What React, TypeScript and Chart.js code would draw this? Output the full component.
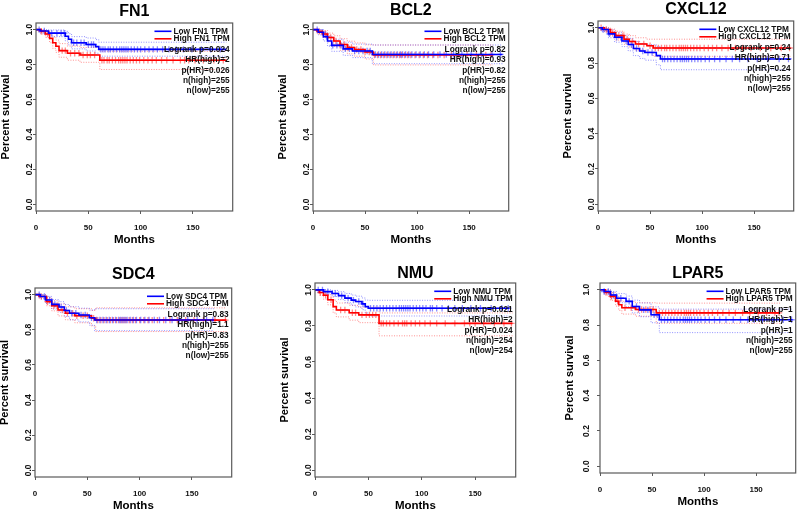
import React, { useEffect, useRef } from 'react';
import { Chart, registerables } from 'chart.js';

Chart.register(...registerables);

const FONT = '"Liberation Sans", Arial, Helvetica, sans-serif';

// ---------- data ----------
const genes = ['FN1', 'BCL2', 'CXCL12', 'SDC4', 'NMU', 'LPAR5'];
const logrankP = ['0.024', '0.82', '0.24', '0.83', '0.021', '1'];
const hrHigh = ['2', '0.93', '0.71', '1.1', '2', '1'];
const pHR = ['0.026', '0.82', '0.24', '0.83', '0.024', '1'];
const nHigh = ['255', '255', '255', '255', '254', '255'];
const nLow = ['255', '255', '255', '255', '254', '255'];

const X_TICKS = [0, 50, 100, 150];
const Y_TICKS = [0, 0.2, 0.4, 0.6, 0.8, 1.0];

// rows: [months, survival, lower CI, upper CI]
const FN1_low = [[0, 1, 1, 1], [4, 0.992, 0.98, 1], [12, 0.98, 0.96, 0.998], [28, 0.962, 0.935, 0.99], [31, 0.945, 0.913, 0.977], [34, 0.925, 0.89, 0.96], [48, 0.915, 0.878, 0.952], [57, 0.903, 0.865, 0.943], [60, 0.887, 0.848, 0.928], [182, 0.887, 0.848, 0.928]];
const FN1_high = [[0, 1, 1, 1], [5, 0.99, 0.975, 1], [9, 0.975, 0.955, 0.995], [13, 0.95, 0.925, 0.977], [16, 0.925, 0.893, 0.958], [19, 0.905, 0.87, 0.94], [22, 0.88, 0.842, 0.92], [30, 0.865, 0.825, 0.906], [42, 0.855, 0.813, 0.898], [61, 0.825, 0.772, 0.876], [182, 0.825, 0.772, 0.876]];
const FN1_lowC = [3, 8, 15, 20, 24, 27, 36, 39, 43, 46, 50, 53, 55, 62, 64, 66, 69, 71, 74, 77, 80, 82, 84, 86, 88, 91, 94, 97, 100, 104, 108, 112, 116, 121, 127, 134, 141, 149, 158, 167, 176];
const FN1_highC = [5, 11, 25, 28, 33, 37, 41, 45, 49, 52, 56, 63, 65, 68, 70, 73, 76, 79, 81, 83, 85, 87, 90, 93, 96, 99, 103, 107, 111, 115, 120, 125, 131, 138, 142, 146, 152, 160, 170, 179];

const BCL2_low = [[0, 1, 1, 1], [5, 0.985, 0.97, 1], [10, 0.96, 0.935, 0.985], [14, 0.935, 0.905, 0.965], [18, 0.91, 0.876, 0.945], [29, 0.89, 0.853, 0.928], [38, 0.878, 0.84, 0.917], [57, 0.858, 0.805, 0.912], [182, 0.858, 0.805, 0.912]];
const BCL2_high = [[0, 1, 1, 1], [4, 0.99, 0.978, 1], [9, 0.975, 0.955, 0.995], [14, 0.955, 0.93, 0.98], [20, 0.935, 0.905, 0.965], [26, 0.915, 0.882, 0.948], [33, 0.898, 0.862, 0.934], [40, 0.886, 0.848, 0.924], [50, 0.872, 0.832, 0.913], [58, 0.855, 0.798, 0.912], [173, 0.855, 0.798, 0.912]];
const BCL2_lowC = [4, 9, 13, 19, 23, 27, 31, 35, 40, 44, 48, 52, 55, 60, 63, 66, 69, 72, 75, 78, 81, 84, 86, 89, 92, 95, 99, 103, 107, 111, 116, 122, 128, 135, 143, 152, 162, 172, 180];
const BCL2_highC = [6, 12, 17, 22, 26, 30, 34, 37, 42, 46, 50, 54, 59, 62, 65, 68, 71, 74, 77, 80, 83, 85, 88, 91, 94, 98, 102, 106, 110, 115, 120, 126, 133, 140, 148, 157, 166, 171];

const CXCL12_low = [[0, 1, 1, 1], [4, 0.99, 0.978, 1], [10, 0.965, 0.943, 0.988], [16, 0.946, 0.918, 0.974], [23, 0.925, 0.893, 0.957], [29, 0.905, 0.869, 0.94], [34, 0.882, 0.842, 0.922], [40, 0.868, 0.826, 0.91], [45, 0.86, 0.816, 0.904], [56, 0.842, 0.79, 0.894], [60, 0.823, 0.762, 0.884], [185, 0.823, 0.762, 0.884]];
const CXCL12_high = [[0, 1, 1, 1], [6, 0.99, 0.978, 1], [12, 0.972, 0.952, 0.992], [17, 0.955, 0.93, 0.98], [25, 0.935, 0.906, 0.964], [30, 0.922, 0.89, 0.955], [36, 0.908, 0.873, 0.943], [47, 0.898, 0.861, 0.935], [53, 0.885, 0.838, 0.935], [185, 0.885, 0.838, 0.935]];
const CXCL12_lowC = [5, 11, 18, 22, 27, 32, 37, 43, 48, 52, 62, 64, 67, 70, 73, 76, 79, 81, 83, 85, 87, 90, 93, 96, 99, 103, 107, 112, 117, 123, 129, 136, 144, 153, 163, 174, 183];
const CXCL12_highC = [3, 8, 14, 20, 24, 28, 33, 39, 44, 50, 55, 58, 61, 64, 66, 69, 72, 75, 78, 80, 82, 84, 86, 89, 92, 95, 98, 102, 106, 110, 114, 119, 125, 132, 139, 147, 156, 166, 176, 184];

const SDC4_low = [[0, 1, 1, 1], [5, 0.99, 0.977, 1], [10, 0.97, 0.95, 0.99], [16, 0.945, 0.918, 0.972], [23, 0.93, 0.9, 0.96], [28, 0.91, 0.876, 0.944], [33, 0.894, 0.857, 0.931], [42, 0.884, 0.845, 0.923], [52, 0.869, 0.826, 0.912], [57, 0.856, 0.795, 0.92], [171, 0.856, 0.795, 0.92]];
const SDC4_high = [[0, 1, 1, 1], [4, 0.99, 0.977, 1], [11, 0.96, 0.937, 0.983], [16, 0.937, 0.908, 0.966], [22, 0.913, 0.879, 0.947], [29, 0.894, 0.857, 0.931], [38, 0.88, 0.84, 0.92], [54, 0.866, 0.822, 0.91], [58, 0.855, 0.79, 0.925], [183, 0.855, 0.79, 0.925]];
const SDC4_lowC = [4, 9, 14, 19, 25, 30, 35, 39, 44, 48, 54, 59, 62, 65, 68, 71, 74, 77, 80, 82, 84, 86, 88, 91, 94, 97, 101, 105, 109, 114, 119, 125, 131, 138, 146, 155, 164, 170];
const SDC4_highC = [6, 12, 18, 21, 26, 31, 36, 40, 46, 50, 56, 60, 63, 66, 69, 72, 75, 78, 81, 83, 85, 87, 90, 93, 96, 100, 104, 108, 112, 117, 123, 129, 136, 144, 152, 161, 172, 182];

const NMU_low = [[0, 1, 1, 1], [8, 0.99, 0.978, 1], [16, 0.98, 0.963, 0.997], [22, 0.968, 0.946, 0.99], [28, 0.954, 0.929, 0.98], [34, 0.943, 0.915, 0.971], [38, 0.935, 0.905, 0.965], [44, 0.922, 0.89, 0.955], [47, 0.907, 0.872, 0.943], [50, 0.898, 0.855, 0.942], [182, 0.898, 0.855, 0.942]];
const NMU_high = [[0, 1, 1, 1], [4, 0.985, 0.97, 1], [8, 0.97, 0.948, 0.992], [12, 0.945, 0.917, 0.973], [17, 0.907, 0.872, 0.943], [20, 0.888, 0.85, 0.927], [32, 0.873, 0.832, 0.914], [41, 0.861, 0.818, 0.904], [60, 0.814, 0.745, 0.872], [185, 0.814, 0.745, 0.872]];
const NMU_lowC = [3, 7, 12, 19, 25, 31, 36, 41, 45, 52, 55, 58, 61, 64, 67, 70, 73, 76, 79, 81, 83, 85, 87, 89, 92, 95, 98, 101, 104, 108, 110, 114, 119, 125, 131, 138, 146, 155, 165, 175, 181];
const NMU_highC = [5, 10, 15, 24, 28, 35, 38, 44, 48, 51, 54, 57, 62, 64, 67, 70, 74, 78, 82, 84, 86, 90, 94, 98, 103, 108, 114, 122, 131, 140, 145, 150, 158, 168, 177, 184];

const LPAR5_low = [[0, 1, 1, 1], [4, 0.99, 0.977, 1], [10, 0.97, 0.95, 0.99], [16, 0.952, 0.926, 0.978], [25, 0.934, 0.904, 0.964], [31, 0.905, 0.869, 0.941], [38, 0.886, 0.847, 0.925], [49, 0.858, 0.813, 0.903], [57, 0.83, 0.757, 0.89], [185, 0.83, 0.757, 0.89]];
const LPAR5_high = [[0, 1, 1, 1], [5, 0.985, 0.97, 1], [10, 0.962, 0.94, 0.984], [15, 0.935, 0.907, 0.963], [18, 0.915, 0.883, 0.947], [21, 0.898, 0.862, 0.934], [34, 0.888, 0.85, 0.926], [54, 0.869, 0.81, 0.924], [173, 0.869, 0.81, 0.924]];
const LPAR5_lowC = [4, 8, 13, 20, 28, 35, 42, 46, 52, 55, 59, 62, 65, 68, 71, 74, 77, 80, 82, 84, 86, 88, 91, 94, 97, 101, 105, 110, 115, 121, 128, 135, 142, 148, 156, 166, 176, 184];
const LPAR5_highC = [6, 11, 17, 24, 30, 37, 40, 44, 48, 51, 57, 60, 63, 66, 69, 72, 75, 78, 81, 83, 85, 87, 90, 93, 96, 100, 104, 108, 113, 118, 124, 130, 137, 144, 152, 160, 168, 172];

const lowCurves = [FN1_low, BCL2_low, CXCL12_low, SDC4_low, NMU_low, LPAR5_low];
const highCurves = [FN1_high, BCL2_high, CXCL12_high, SDC4_high, NMU_high, LPAR5_high];
const lowCensors = [FN1_lowC, BCL2_lowC, CXCL12_lowC, SDC4_lowC, NMU_lowC, LPAR5_lowC];
const highCensors = [FN1_highC, BCL2_highC, CXCL12_highC, SDC4_highC, NMU_highC, LPAR5_highC];

// ---------- layout (page pixels): plot box [left, top, right, bottom], title gap, y tick padding ----------
const LAYOUT = [
  { box: [36, 23, 236, 211], gap: 14, yPad: -2.5 },
  { box: [313, 23, 512, 211], gap: 15, yPad: -2.5 },
  { box: [598, 21, 797, 211], gap: 14, yPad: -2.5 },
  { box: [35, 288, 235, 477], gap: 16, yPad: -2.5 },
  { box: [315, 283, 519, 477], gap: 12, yPad: -2.5 },
  { box: [600, 283, 799, 473], gap: 12, yPad: 4 },
];
const Y_AXIS_W = 36;
const X_AXIS_H = 36;
const RIGHT_PAD = 2;
const TITLE_TOP = 3;

const BLUE = '#0000ff';
const RED = '#ff0000';

function stepAt(rows: number[][], t: number): number {
  let s = 1;
  for (const r of rows) {
    if (r[0] <= t) s = r[1];
    else break;
  }
  return s;
}

const kmTextPlugin = {
  id: 'kmText',
  afterDraw(chart: any, _args: any, opts: any) {
    const { ctx, chartArea: a } = chart;
    ctx.save();
    // plot frame
    ctx.strokeStyle = '#5a5a5a';
    ctx.lineWidth = 1.2;
    ctx.strokeRect(a.left, a.top, a.right - a.left, a.bottom - a.top);

    const right = a.right - 3;
    ctx.font = `bold 8.3px ${FONT}`;
    ctx.textBaseline = 'middle';
    ctx.fillStyle = '#111';
    const legendTexts = [opts.lowLabel, opts.highLabel];
    const legendColors = [BLUE, RED];
    const legendY = [a.top + 8.3, a.top + 15.8];
    const maxW = Math.max(...legendTexts.map((t: string) => ctx.measureText(t).width));
    const textX = right - maxW;
    legendTexts.forEach((t: string, i: number) => {
      ctx.strokeStyle = legendColors[i];
      ctx.lineWidth = 1.6;
      ctx.beginPath();
      ctx.moveTo(textX - 19, legendY[i]);
      ctx.lineTo(textX - 2, legendY[i]);
      ctx.stroke();
      ctx.textAlign = 'left';
      ctx.fillText(t, textX, legendY[i]);
    });
    ctx.textAlign = 'right';
    const stats: string[] = opts.stats;
    stats.forEach((t, i) => {
      ctx.fillText(t, right, a.top + 27 + i * 10.2);
    });
    ctx.restore();
  },
};

function Panel({ idx }: { idx: number }) {
  const ref = useRef<HTMLCanvasElement>(null);
  const lay = LAYOUT[idx];
  const [L, T, R, B] = lay.box;
  const titlePad = lay.gap - 8 - TITLE_TOP;
  const left = L - Y_AXIS_W;
  const top = T - 16 - titlePad - TITLE_TOP;
  const width = R + RIGHT_PAD - left;
  const height = B + X_AXIS_H - top;

  useEffect(() => {
    const gene = genes[idx];
    const low = lowCurves[idx];
    const high = highCurves[idx];
    const pts = (rows: number[][], k: number) => rows.map((r) => ({ x: r[0], y: r[k] }));
    const cens = (rows: number[][], ts: number[]) => ts.map((t) => ({ x: t, y: stepAt(rows, t) }));
    const curve = (rows: number[][], color: string) => ({
      type: 'line',
      data: pts(rows, 1),
      showLine: true,
      stepped: true,
      pointRadius: 0,
      borderColor: color,
      borderWidth: 1.6,
      fill: false,
    });
    const ci = (rows: number[][], k: number, color: string) => ({
      type: 'line',
      data: pts(rows, k),
      showLine: true,
      stepped: true,
      pointRadius: 0,
      borderColor: color,
      borderWidth: 0.8,
      borderDash: [1, 1.5],
      fill: false,
    });
    const marks = (rows: number[][], ts: number[], color: string) => ({
      type: 'scatter',
      data: cens(rows, ts),
      showLine: false,
      pointStyle: 'cross',
      radius: 3.2,
      pointRadius: 3.2,
      borderWidth: 1.3,
      pointBorderWidth: 1.3,
      pointBorderColor: color,
      pointBackgroundColor: color,
      borderColor: color,
      backgroundColor: color,
    });

    const chart = new Chart(ref.current as HTMLCanvasElement, {
      type: 'scatter',
      data: {
        datasets: [
          curve(low, BLUE),
          curve(high, RED),
          marks(low, lowCensors[idx], 'rgba(60,60,255,0.6)'),
          marks(high, highCensors[idx], 'rgba(255,60,60,0.6)'),
          ci(low, 2, 'rgba(70,70,255,0.75)'),
          ci(low, 3, 'rgba(70,70,255,0.75)'),
          ci(high, 2, 'rgba(255,70,70,0.75)'),
          ci(high, 3, 'rgba(255,70,70,0.75)'),
        ] as any,
      },
      options: {
        animation: false,
        responsive: false,
        events: [],
        layout: { padding: { left: 0, right: RIGHT_PAD, top: 0, bottom: 0 } },
        plugins: {
          legend: { display: false },
          tooltip: { enabled: false },
          title: {
            display: true,
            text: gene,
            fullSize: false,
            color: '#000',
            font: { family: FONT, size: 16, weight: 'bold', lineHeight: 1 },
            padding: { top: TITLE_TOP, bottom: titlePad },
          },
          kmText: {
            lowLabel: `Low ${gene} TPM`,
            highLabel: `High ${gene} TPM`,
            stats: [
              `Logrank p=${logrankP[idx]}`,
              `HR(high)=${hrHigh[idx]}`,
              `p(HR)=${pHR[idx]}`,
              `n(high)=${nHigh[idx]}`,
              `n(low)=${nLow[idx]}`,
            ],
          },
        } as any,
        scales: {
          x: {
            type: 'linear',
            min: 0,
            max: 188,
            afterBuildTicks: (s: any) => {
              s.ticks = X_TICKS.map((v) => ({ value: v }));
            },
            afterFit: (s: any) => {
              s.height = X_AXIS_H;
            },
            grid: { display: true, drawOnChartArea: false, drawTicks: true, tickLength: 3, color: '#5a5a5a', lineWidth: 1 },
            border: { display: false },
            ticks: {
              padding: 8.5,
              maxRotation: 0,
              minRotation: 0,
              color: '#111',
              font: { family: FONT, size: 8, weight: 'bold' },
              callback: (v: any) => String(v),
            },
            title: {
              display: true,
              text: 'Months',
              color: '#000',
              font: { family: FONT, size: 11.5, weight: 'bold', lineHeight: 1 },
              padding: { top: 0, bottom: 1.5 },
            },
          },
          y: {
            type: 'linear',
            min: -0.038,
            max: 1.038,
            afterBuildTicks: (s: any) => {
              s.ticks = Y_TICKS.map((v) => ({ value: v }));
            },
            afterFit: (s: any) => {
              s.width = Y_AXIS_W;
            },
            grid: { display: true, drawOnChartArea: false, drawTicks: true, tickLength: 3, color: '#5a5a5a', lineWidth: 1 },
            border: { display: false },
            ticks: {
              padding: lay.yPad,
              minRotation: 90,
              maxRotation: 90,
              crossAlign: 'center',
              color: '#111',
              font: { family: FONT, size: 8.5, weight: 'bold' },
              callback: (v: any) => Number(v).toFixed(1),
            },
            title: {
              display: true,
              text: 'Percent survival',
              color: '#000',
              font: { family: FONT, size: 11, weight: 'bold', lineHeight: 1 },
              padding: { top: 0, bottom: 0 },
            },
          },
        },
      } as any,
      plugins: [kmTextPlugin as any],
    });
    return () => chart.destroy();
  }, [idx]);

  return (
    <canvas
      ref={ref}
      width={width}
      height={height}
      style={{ position: 'absolute', left, top, width, height, display: 'block' }}
    />
  );
}

export default function App() {
  return (
    <div
      style={{
        position: 'absolute',
        left: 0,
        top: 0,
        width: 800,
        height: 512,
        overflow: 'hidden',
        background: '#fff',
      }}
    >
      {genes.map((g, i) => (
        <Panel key={g} idx={i} />
      ))}
    </div>
  );
}
